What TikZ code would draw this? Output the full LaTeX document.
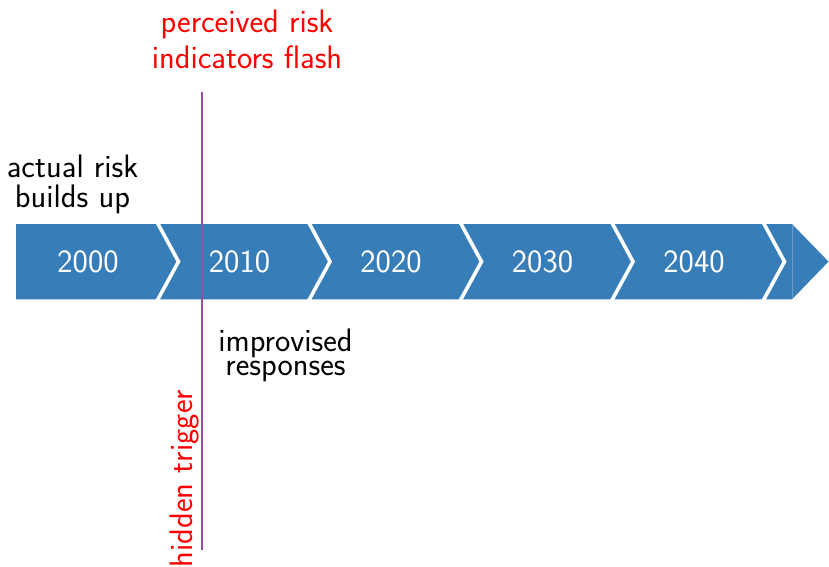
\documentclass[tikz,border=0pt]{standalone}
\usepackage{fontspec}
\definecolor{barblue}{HTML}{377EB8}
\definecolor{trigpurple}{HTML}{984EA3}
\begin{document}
\begin{tikzpicture}[x=1pt,y=-1pt,
  lbl/.style={font=\sffamily\fontsize{32.5}{36}\selectfont, inner sep=0pt, align=center, anchor=base},
  year/.style={lbl, text=white},
  sepline/.style={draw=white, line width=3.6pt, miter limit=10}]
\useasboundingbox (0,0) rectangle (829,566);
% bar with arrow head
\fill[barblue] (16,224) -- (792,224) -- (828.5,261.6) -- (792,299.3) -- (16,299.3) -- cycle;
\draw[barblue!75!white, line width=0.6pt] (792,224) -- (792,299.3);
% chevron separators
\foreach \sx in {157,308.5,460,611.5,763}{
  \draw[sepline] (\sx,222) -- ({\sx+21.5},261.6) -- (\sx,301);
}
% years
\node[year] (y2000) at (88,272) {2000};
\node[year] (y2010) at (239.5,272) {2010};
\node[year] (y2020) at (391,272) {2020};
\node[year] (y2030) at (542.5,272) {2030};
\node[year] (y2040) at (694,272) {2040};
% trigger line
\coordinate (ttop) at (201.5,92);
\coordinate (tbot) at (201.5,550);
\draw[trigpurple, line width=2pt] (ttop) -- (tbot);
% labels
\node[lbl, font=\sffamily\fontsize{32.5}{30}\selectfont] (actual) at (72.5,207.5) {actual risk\\builds up};
\node[lbl, text=red] (perceived) at (247,68) {perceived risk\\indicators flash};
\node[lbl, font=\sffamily\fontsize{32.5}{24}\selectfont] (improv) at (285.5,375) {improvised\\responses};
\node[lbl, text=red, rotate=90] (hidden) at (192,478.5) {hidden trigger};
\end{tikzpicture}
\end{document}
